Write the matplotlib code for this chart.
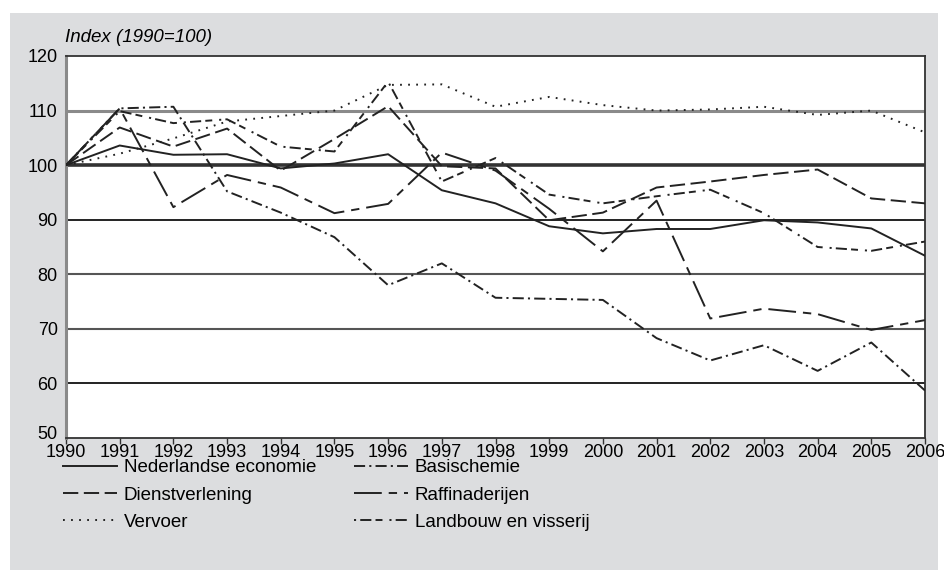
import matplotlib
matplotlib.use("Agg")
import matplotlib.pyplot as plt
import matplotlib.transforms as mtransforms
from matplotlib.patches import Rectangle

plt.rcParams['font.family'] = ['Liberation Sans', 'DejaVu Sans']
plt.rcParams['lines.scale_dashes'] = False

years = list(range(1990, 2007))
year_labels = [str(y) for y in years]

nederlandse_economie = [100, 103.6, 101.9, 102.0, 99.4, 100.3, 102.0, 95.4, 93.0, 88.8, 87.5, 88.3, 88.3, 89.9, 89.5, 88.4, 83.4]
dienstverlening = [100, 106.9, 103.4, 106.7, 99.0, 104.8, 110.8, 99.8, 99.4, 89.9, 91.3, 95.9, 97.0, 98.2, 99.2, 93.9, 93.0]
vervoer = [100, 102.1, 104.9, 108.0, 109.0, 110.0, 114.7, 114.8, 110.7, 112.5, 111.0, 110.0, 110.2, 110.7, 109.2, 110.0, 106.0]
basischemie = [100, 110.4, 110.7, 95.2, 91.3, 86.8, 78.0, 82.0, 75.7, 75.5, 75.3, 68.3, 64.2, 67.0, 62.3, 67.5, 58.7]
raffinaderijen = [100, 110.4, 92.3, 98.2, 95.9, 91.2, 92.9, 102.3, 99.0, 92.0, 84.2, 93.5, 71.9, 73.7, 72.7, 69.8, 71.6]
landbouw = [100, 109.9, 107.7, 108.4, 103.4, 102.5, 115.3, 97.0, 101.3, 94.6, 93.0, 94.3, 95.5, 91.2, 85.0, 84.3, 86.0]

series_labels = ["Nederlandse economie", "Dienstverlening", "Vervoer",
                 "Basischemie", "Raffinaderijen", "Landbouw en visserij"]
y_ticks = [50, 60, 70, 80, 90, 100, 110, 120]

W, H = 945, 570
fig = plt.figure(figsize=(W / 100, H / 100), dpi=100)
fig.patch.set_facecolor('white')
bg = Rectangle((10 / W, 0), (938 - 10) / W, (570 - 13) / H,
               transform=fig.transFigure, facecolor='#dcdddf',
               edgecolor='none', zorder=-10)
fig.patches.append(bg)

ax = fig.add_axes([66 / W, 1 - 438 / H, (925 - 66) / W, (438 - 56) / H])
ax.set_zorder(5)
ax.set_facecolor('white')

lc = '#222222'
lw = 1.4
styles = [
    dict(linestyle='-'),
    dict(dashes=(11, 4)),
    dict(dashes=(1.3, 4.5)),
    dict(dashes=(8, 3, 1.5, 3)),
    dict(dashes=(20, 5, 6, 5)),
    dict(dashes=(1.5, 3, 8, 3, 5, 5)),
]
data = [nederlandse_economie, dienstverlening, vervoer, basischemie, raffinaderijen, landbouw]

# horizontal gridlines
for v in y_ticks[1:-1]:
    if v == 110:
        ax.axhline(v, color='#8a8a8a', lw=2.2, zorder=1)
    elif v == 100:
        ax.axhline(v, color='#333333', lw=2.6, zorder=1)
    elif v in (80, 70):
        ax.axhline(v, color='#555555', lw=1.5, zorder=1)
    else:
        ax.axhline(v, color='#111111', lw=1.3, zorder=1)

for vals, lab, st in zip(data, series_labels, styles):
    ax.plot(years, vals, color=lc, lw=lw, label=lab, zorder=3, **st)

ax.set_xlim(1990, 2006)
ax.set_ylim(50, 120)
ax.set_xticks(years)
ax.set_xticklabels(year_labels)
ax.set_yticks(y_ticks)
ax.tick_params(axis='x', direction='out', length=4, width=1, color='#333333',
               pad=0, labelsize=13)
ax.tick_params(axis='y', length=0, pad=6, labelsize=13)

# nudge the lowest y label up slightly so it does not collide with "1990"
fig.canvas.draw()
lbl50 = ax.get_yticklabels()[0]
lbl50.set_transform(lbl50.get_transform() +
                    mtransforms.ScaledTranslation(0, 4 / 72, fig.dpi_scale_trans))

for s in ['top', 'right', 'bottom']:
    ax.spines[s].set_color('#333333')
    ax.spines[s].set_linewidth(1.3)
ax.spines['left'].set_color('#8a8a8a')
ax.spines['left'].set_linewidth(2.2)

fig.text(65 / W, 1 - 37 / H, "Index (1990=100)", fontsize=13.5, style='italic',
         ha='left', va='center')

leg = ax.legend(loc='upper left', bbox_to_anchor=(63 / W, 1 - 459 / H),
                bbox_transform=fig.transFigure, ncol=2, frameon=False,
                fontsize=13.5, handlelength=2.9, handletextpad=0.35,
                columnspacing=2.0, labelspacing=0.55, borderpad=0,
                borderaxespad=0)

fig.savefig("out.png", dpi=100)
